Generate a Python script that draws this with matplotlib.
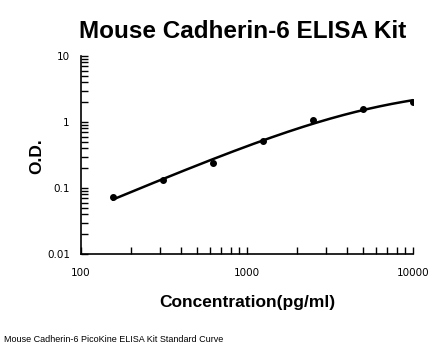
import numpy as np
import matplotlib
matplotlib.use('Agg')
import matplotlib.pyplot as plt
from matplotlib.ticker import LogLocator, FuncFormatter, NullFormatter

# standard curve points
concentracion = [156, 312, 625, 1250, 2500, 5000, 10000]
densidad = [0.074, 0.132, 0.237, 0.515, 1.07, 1.57, 2.03]

titulo = 'Mouse Cadherin-6 ELISA Kit'
etiquetaX = 'Concentration(pg/ml)'
etiquetaY = 'O.D.'
pie = 'Mouse Cadherin-6 PicoKine ELISA Kit Standard Curve'


def ajusteCurva(x, y):
	# y = d * (x/c)^b / (1 + (x/c)^b), grid over b, c; d from log residual
	lx = np.log10(np.asarray(x, float))
	ly = np.log10(np.asarray(y, float))
	mejor = None
	for b in np.linspace(0.6, 3, 121):
		for lc in np.linspace(2.5, 5, 126):
			u = b * (lx - lc)
			f = u - np.log10(1 + 10**u)
			ld = np.mean(ly - f)
			err = np.sum((ld + f - ly)**2)
			if mejor is None or err < mejor[0]:
				mejor = (err, b, lc, ld)
	return mejor[1:]


b, lc, ld = ajusteCurva(concentracion, densidad)
lxs = np.linspace(np.log10(concentracion[0]), np.log10(concentracion[-1]), 200)
u = b * (lxs - lc)
xs = 10**lxs
ys = 10**(ld + u - np.log10(1 + 10**u))

fig = plt.figure(figsize=(4.46, 3.56), dpi=100)
ax = fig.add_axes([81/446, 1 - 254/356, 332/446, 198/356])

ax.plot(xs, ys, color='black', lw=1.8, zorder=2)
ax.plot(concentracion, densidad, 'o', color='black', ms=4, zorder=3)

ax.set_xscale('log')
ax.set_yscale('log')
ax.set_xlim(100, 10000)
ax.set_ylim(0.01, 10)

ax.xaxis.set_major_locator(LogLocator(base=10, numticks=10))
ax.yaxis.set_major_locator(LogLocator(base=10, numticks=10))
ax.xaxis.set_minor_locator(LogLocator(base=10, subs=np.arange(2, 10), numticks=10))
ax.yaxis.set_minor_locator(LogLocator(base=10, subs=np.arange(2, 10), numticks=10))
fmt = FuncFormatter(lambda v, p: '%g' % v)
ax.xaxis.set_major_formatter(fmt)
ax.yaxis.set_major_formatter(fmt)
ax.xaxis.set_minor_formatter(NullFormatter())
ax.yaxis.set_minor_formatter(NullFormatter())

ax.tick_params(which='both', direction='in', length=5, width=1, labelsize=7.5, colors='black')
ax.tick_params(axis='x', pad=10)
ax.tick_params(axis='y', pad=8)
for lado in ['top', 'right']:
	ax.spines[lado].set_visible(False)
for lado in ['left', 'bottom']:
	ax.spines[lado].set_linewidth(1.2)

fig.text(243/446, 1 - 31/356, titulo, ha='center', va='center', fontsize=17.5,
	fontweight='bold', family='Liberation Sans')
fig.text(247/446, 1 - 302/356, etiquetaX, ha='center', va='center', fontsize=12.5,
	fontweight='bold', family='Liberation Sans')
fig.text(37/446, 1 - 156/356, etiquetaY, ha='center', va='center', fontsize=12.5,
	fontweight='bold', family='Liberation Sans', rotation=90)
fig.text(4/446, 1 - 340/356, pie, ha='left', va='center', fontsize=6.5,
	family='Liberation Sans')

plt.savefig('out.png', dpi=100)
